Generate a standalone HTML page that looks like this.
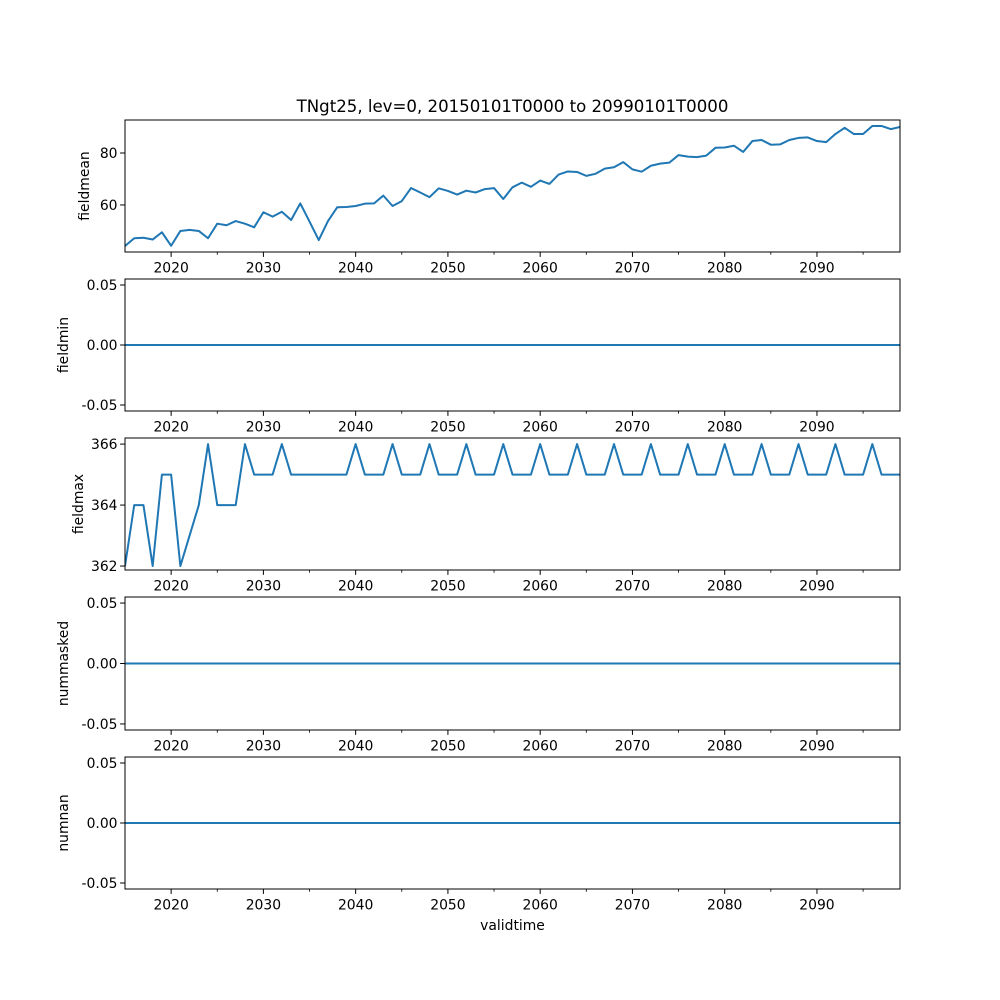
<!DOCTYPE html>
<html><head><meta charset="utf-8"><style>
html,body{margin:0;padding:0;background:#fff}
svg{display:block;font-family:"DejaVu Sans","Liberation Sans",sans-serif}
</style></head><body>
<svg id="fig" width="1000" height="1000" viewBox="0 0 1000 1000" xmlns="http://www.w3.org/2000/svg">
<rect width="1000" height="1000" fill="#fff"/>
<text x="512.5" y="112" font-size="16.6" text-anchor="middle">TNgt25, lev=0, 20150101T0000 to 20990101T0000</text>
<text x="512.5" y="930" font-size="13.9" text-anchor="middle">validtime</text>
</svg>
<script>
const years = [];
for (let y = 2015; y <= 2099; y++) years.push(y);
const fieldmeanValues = [44.2,47.2,47.4,46.7,49.5,44.3,50,50.4,50,47.2,52.8,52.2,53.8,52.8,51.4,57.2,55.5,57.4,54.2,60.6,53.6,46.5,53.8,59.1,59.2,59.6,60.5,60.6,63.6,59.6,61.5,66.5,64.8,63,66.4,65.4,64,65.5,64.8,66.1,66.5,62.3,66.8,68.6,67,69.4,68.1,71.7,72.9,72.7,71.2,72,74,74.5,76.5,73.7,72.8,75.1,75.9,76.3,79.2,78.6,78.4,79,82,82.1,82.8,80.4,84.6,85,83.2,83.3,85,85.8,86,84.6,84.2,87.3,89.7,87.3,87.3,90.4,90.4,89.2,90];
const fieldminValues = years.map(() => 0);
const fieldmaxValues = [362,364,364,362,365,365,362,363,364,366,364,364,364,366,365,365,365,366,365,365,365,365,365,365,365,366,365,365,365,366,365,365,365,366,365,365,365,366,365,365,365,366,365,365,365,366,365,365,365,366,365,365,365,366,365,365,365,366,365,365,365,366,365,365,365,366,365,365,365,366,365,365,365,366,365,365,365,366,365,365,365,366,365,365,365];
const nummaskedValues = years.map(() => 0);
const numnanValues = years.map(() => 0);
const xTicks = [2020,2030,2040,2050,2060,2070,2080,2090];
const xMinorTicks = [2025,2035,2045,2055,2065,2075,2085,2095];
const fieldmeanTicks = [60,80];
const fieldmaxTicks = [362,364,366];
const zeroTicks = [-0.05,0,0.05];

const svg = document.getElementById('fig');
const NS = 'http://www.w3.org/2000/svg';
const L = 125, R = 900, XMIN = 2015, XMAX = 2099;
const xs = v => L + (v - XMIN) / (XMAX - XMIN) * (R - L);
function el(tag, attrs, parent) {
  const e = document.createElementNS(NS, tag);
  for (const k in attrs) e.setAttribute(k, attrs[k]);
  (parent || svg).appendChild(e);
  return e;
}
const panels = [
  {name:'fieldmean', top:120, bot:252, ymin:41.9, ymax:92.7, vals:fieldmeanValues, ticks:fieldmeanTicks, fmt:v=>String(v), lx:89},
  {name:'fieldmin', top:279, bot:411, ymin:-0.055, ymax:0.055, vals:fieldminValues, ticks:zeroTicks, fmt:v=>v.toFixed(2), lx:68},
  {name:'fieldmax', top:438, bot:570, ymin:361.87, ymax:366.2, vals:fieldmaxValues, ticks:fieldmaxTicks, fmt:v=>String(v), lx:83},
  {name:'nummasked', top:597, bot:730, ymin:-0.055, ymax:0.055, vals:nummaskedValues, ticks:zeroTicks, fmt:v=>v.toFixed(2), lx:68},
  {name:'numnan', top:757, bot:889, ymin:-0.055, ymax:0.055, vals:numnanValues, ticks:zeroTicks, fmt:v=>v.toFixed(2), lx:68}
];
panels.forEach(p => {
  const g = el('g', {});
  
  
  const ys = v => p.bot - (v - p.ymin) / (p.ymax - p.ymin) * (p.bot - p.top);
  const pts = years.map((y, i) => xs(y).toFixed(2) + ',' + ys(p.vals[i]).toFixed(2)).join(' ');
  const clipId = 'clip-' + p.name;
  const cp = el('clipPath', {id: clipId}, g);
  el('rect', {x: L, y: p.top, width: R - L, height: p.bot - p.top}, cp);
  const line = el('polyline', {points: pts, fill: 'none', stroke: '#1f77b4', 'stroke-width': 2, 'stroke-linejoin': 'round', 'clip-path': 'url(#' + clipId + ')'}, g);
  
  
  const frame = el('rect', {x: L, y: p.top, width: R - L, height: p.bot - p.top, fill: 'none', stroke: '#000', 'stroke-width': 1}, g);
  
  
  xTicks.forEach(t => {
    el('line', {x1: xs(t), x2: xs(t), y1: p.bot, y2: p.bot + 4.9, stroke: '#000', 'stroke-width': 1}, g);
    const tx = el('text', {x: xs(t), y: p.bot + 20.5, 'font-size': 13.9, 'text-anchor': 'middle'}, g);
    tx.textContent = t;
    
    
  });
  xMinorTicks.forEach(t => {
    el('line', {x1: xs(t), x2: xs(t), y1: p.bot, y2: p.bot + 2.8, stroke: '#000', 'stroke-width': 0.8}, g);
  });
  p.ticks.forEach(t => {
    const y = ys(t);
    el('line', {x1: L - 4.9, x2: L, y1: y, y2: y, stroke: '#000', 'stroke-width': 1}, g);
    const tx = el('text', {x: L - 7.5, y: y + 5, 'font-size': 13.9, 'text-anchor': 'end'}, g);
    tx.textContent = p.fmt(t);
    
    
  });
  const cy = (p.top + p.bot) / 2;
  const yl = el('text', {x: p.lx, y: cy, 'font-size': 13.9, 'text-anchor': 'middle', transform: 'rotate(-90 ' + p.lx + ' ' + cy + ')'}, g);
  yl.textContent = p.name;
  
  
});
</script>
</body></html>
